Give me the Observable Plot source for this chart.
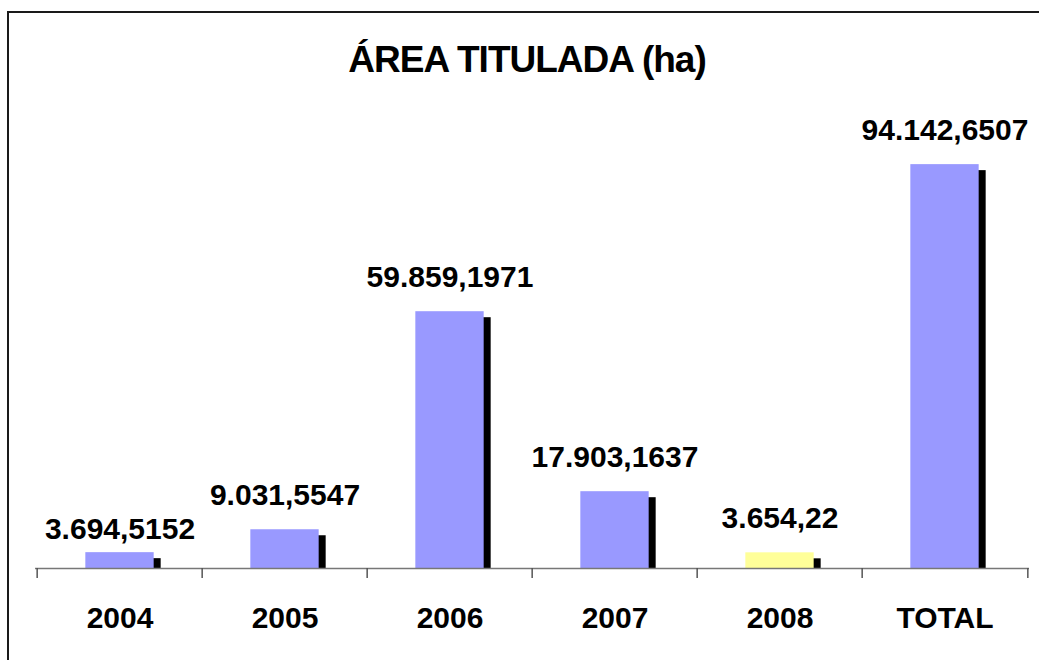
<!DOCTYPE html>
<html><head><meta charset="utf-8">
<script src="https://cdn.jsdelivr.net/npm/d3@7"></script>
<script src="https://cdn.jsdelivr.net/npm/@observablehq/plot@0.6"></script>
<style>
html,body{margin:0;padding:0;background:#fff;overflow:hidden}
#wrap{position:relative;width:1039px;height:660px;overflow:hidden;background:#fff}
#border{position:absolute;left:7px;top:11px;width:1100px;height:700px;border:2px solid #1a1a1a;box-sizing:border-box}
#title{position:absolute;left:30px;top:41px;width:994px;text-align:center;font:bold 37px "Liberation Sans",Arial,sans-serif;line-height:37px;letter-spacing:-1px;color:#000;white-space:nowrap}
#chart{position:absolute;left:0;top:100px}
</style></head><body>
<div id="wrap"><div id="border"></div><div id="title">ÁREA TITULADA (ha)</div><div id="chart"></div></div>
<script>
const categories = ["2004", "2005", "2006", "2007", "2008", "TOTAL"];
const values = [3694.5152, 9031.5547, 59859.1971, 17903.1637, 3654.22, 94142.6507];
const highlight = "2008";

function fmt(v) {
  const [i, f] = String(v).split(".");
  const int = i.replace(/\B(?=(\d{3})+(?!\d))/g, ".");
  return f ? int + "," + f : int;
}

const data = categories.map((c, k) => ({cat: c, value: values[k], label: fmt(values[k])}));

const W = 1039, H = 560, mL = 35, mR = 10, mT = 39, mB = 92;
const bw = (W - mL - mR) / categories.length;
const inset = (bw - 69) / 2;
const font = "'Liberation Sans', Arial, sans-serif";
const blue = "#9999FF", yellow = "#FFFF99";

const chart = Plot.plot({
  width: W, height: H,
  marginLeft: mL, marginRight: mR, marginTop: mT, marginBottom: mB,
  style: {fontFamily: font, fontSize: "30px", fontWeight: "bold", color: "#000", background: "transparent", overflow: "visible"},
  x: {domain: categories, padding: 0, label: null},
  y: {domain: [0, 100000], axis: null},
  color: {type: "identity"},
  marks: [
    Plot.barY(data, {x: "cat", y: "value", fill: "#000", insetLeft: inset, insetRight: inset, dx: 7, dy: 6, clip: true}),
    Plot.barY(data, {x: "cat", y: "value", fill: d => d.cat === highlight ? yellow : blue, insetLeft: inset, insetRight: inset}),
    Plot.ruleY([0], {stroke: "#777", strokeWidth: 1.5}),
    Plot.ruleX(categories, {x: d => d, y1: 0, y2: 0, dx: -bw / 2, insetBottom: -10, stroke: "#555", strokeWidth: 1.5}),
    Plot.ruleX([categories[categories.length - 1]], {x: d => d, y1: 0, y2: 0, dx: bw / 2, insetBottom: -10, stroke: "#555", strokeWidth: 1.5}),
    Plot.axisX({tickSize: 0, tickPadding: 38, fontSize: 30, fontWeight: "bold", fill: "#000"}),
    Plot.text(data.filter(d => d.cat !== "2004"), {x: "cat", y: "value", text: "label", dy: -25, lineAnchor: "bottom", fontSize: 30, fontWeight: "bold", fill: "#000"}),
    Plot.text(data.filter(d => d.cat === "2004"), {x: "cat", y: "value", text: "label", dy: -14, lineAnchor: "bottom", fontSize: 30, fontWeight: "bold", fill: "#000"})
  ]
});
document.getElementById("chart").appendChild(chart);
</script>
</body></html>
